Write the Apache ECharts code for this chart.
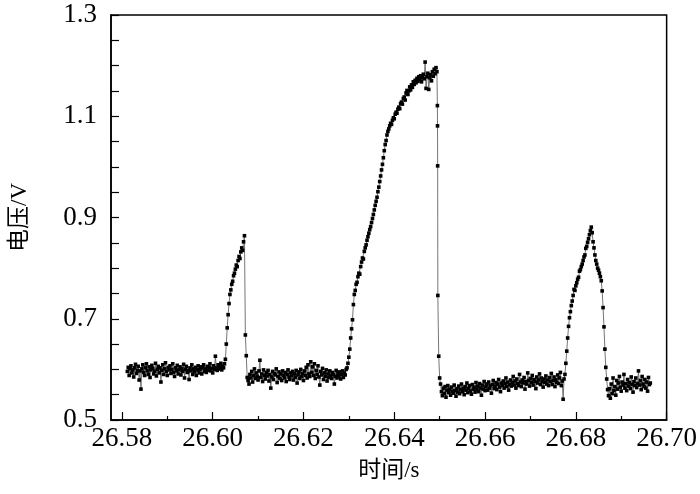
<!DOCTYPE html>
<html>
<head>
<meta charset="utf-8">
<script src="https://cdn.jsdelivr.net/npm/echarts@6/dist/echarts.min.js"></script>
<style>
  html, body { margin: 0; padding: 0; background: #fff; }
  #chart { width: 700px; height: 494px; }
</style>
</head>
<body>
<div id="chart"></div>
<script>
// 采样间隔 (s)，各段电压值单位 mV
const sampleStep = 0.0002;

const baseline1Start = 26.5812;
const baseline1 = [
  596, 604, 588, 601, 607, 593, 599, 585, 603, 610,
  592, 598, 606, 579, 597, 561, 601, 609, 594, 588,
  603, 611, 597, 590, 605, 584, 599, 608, 602, 591,
  596, 612, 587, 600, 606, 593, 603, 575, 598, 609,
  590, 601, 613, 596, 588, 604, 599, 607, 592, 600,
  611, 594, 586, 603, 597, 608, 591, 599, 605, 589,
  602, 596, 610, 583, 600, 606, 594, 598, 580, 603,
  597, 609, 590, 601, 595, 604, 588, 599, 607, 593,
  600, 605, 591, 603, 609, 596, 601, 594, 606, 598,
  604, 611, 597, 602, 593, 607, 600, 626, 603, 598,
  609, 601, 605, 612, 599, 606, 603, 611
];

const peak1Start = 26.6028;
const peak1 = [
  620, 650, 682, 708, 730, 748, 757, 768, 774, 785,
  790, 798, 806, 803, 815, 823, 819, 832, 840, 835,
  852, 864, 668, 627, 584
];

const baseline2Start = 26.6078;
const baseline2 = [
  578, 571, 590, 583, 596, 575, 588, 601, 582, 593,
  586, 579, 597, 618, 584, 591, 576, 599, 588, 581,
  594, 587, 598, 577, 590, 563, 585, 596, 580, 592,
  589, 601, 574, 586, 595, 582, 591, 578, 597, 588,
  583, 594, 576, 590, 599, 585, 580, 593, 587, 596,
  579, 591, 584, 598, 573, 589, 595, 582, 600, 586,
  592, 578, 597, 588, 604, 583, 609, 591, 586, 615,
  594, 605, 588, 611, 582, 598, 590, 607, 585, 569,
  596, 589, 602, 580, 593, 586, 599, 577, 591, 584,
  597, 588, 582, 594, 590, 571, 586, 598, 583, 592,
  587, 595, 581, 590, 597, 584, 593, 589, 600
];

const peak2Start = 26.6296;
const peak2 = [
  603, 612, 624, 640, 662, 680, 698, 728, 748, 756,
  768, 772, 783, 790, 788, 803, 812, 820, 818, 833,
  840, 846, 855, 862, 869, 876, 882, 890, 898, 906,
  915, 924, 932, 940, 951, 960, 971, 982, 994, 1005,
  1018, 1032, 1044, 1052, 1063, 1070, 1075, 1081, 1086, 1084,
  1092, 1097, 1095, 1104, 1108, 1106, 1114, 1118, 1115, 1125,
  1128, 1124, 1135, 1138, 1132, 1146, 1151, 1143, 1150, 1158,
  1152, 1162, 1157, 1168, 1163, 1171, 1166, 1175, 1169, 1178,
  1172, 1180, 1168, 1176, 1183, 1174, 1207, 1155, 1178, 1185,
  1153, 1176, 1182, 1170, 1188, 1179, 1193, 1184, 1196, 1188,
  746, 626, 583
];

// 第二个峰快速下降段的采样点
const fall2Times = [26.6495, 26.64953, 26.64956];
const fall2Values = [1121, 1081, 1002];

const baseline3Start = 26.6502;
const baseline3 = [
  571, 556, 548, 563, 552, 566, 545, 559, 568, 554,
  561, 549, 565, 557, 553, 569, 558, 547, 562, 555,
  567, 552, 560, 571, 556, 563, 550, 566, 559, 573,
  554, 562, 568, 557, 551, 570, 561, 565, 555, 574,
  560, 567, 556, 572, 563, 549, 569, 561, 576, 558,
  566, 571, 559, 575, 563, 568, 553, 570, 578, 562,
  567, 574, 560, 571, 580, 565, 556, 573, 568, 577,
  563, 572, 583, 566, 575, 559, 570, 579, 567, 574,
  586, 569, 577, 563, 581, 572, 568, 590, 575, 566,
  579, 573, 584, 561, 576, 571, 593, 578, 567, 582,
  574, 588, 569, 580, 576, 562, 585, 573, 579, 591,
  570, 583, 576, 565, 581, 574, 587, 571, 579, 568,
  584, 576, 592, 570, 578, 585, 566, 580, 574, 589,
  572, 583, 594, 568, 577, 541, 581
];

const peak3Start = 26.6776;
const peak3 = [
  590, 612, 636, 662, 685, 702, 714, 726, 735, 746,
  758, 756, 765, 771, 778, 782, 794, 797, 803, 808,
  815, 822, 826, 839, 843, 851, 858, 866, 874, 881,
  870, 852, 840, 826, 815, 808, 800, 796, 790, 783,
  775, 755, 722, 684, 640, 604, 581, 560
];

const baseline4Start = 26.6872;
const baseline4 = [
  548, 562, 543, 571, 552, 583, 558, 566, 549, 578,
  561, 573, 586, 565, 557, 575, 569, 590, 563, 572,
  558, 580, 567, 574, 562, 585, 570, 555, 576, 568,
  583, 564, 572, 597, 569, 578, 560, 586, 571, 566,
  580, 563, 575, 557, 584, 570, 573
];

// 坐标轴刻度
const xLabelValues = [26.58, 26.60, 26.62, 26.64, 26.66, 26.68, 26.70];
const xMinorTicks = [26.59, 26.61, 26.63, 26.65, 26.67, 26.69];
const yLabelValues = [0.5, 0.7, 0.9, 1.1, 1.3];
const yTickValues = [0.5, 0.55, 0.6, 0.65, 0.7, 0.75, 0.8, 0.85, 0.9, 0.95, 1.0, 1.05, 1.1, 1.15, 1.2, 1.25, 1.3];

const points = [];
function addSegment(start, values) {
  values.forEach((v, i) => points.push([+(start + i * sampleStep).toFixed(5), v / 1000]));
}
addSegment(baseline1Start, baseline1);
addSegment(peak1Start, peak1);
addSegment(baseline2Start, baseline2);
addSegment(peak2Start, peak2);
fall2Times.forEach((t, i) => points.push([t, fall2Values[i] / 1000]));
addSegment(baseline3Start, baseline3);
addSegment(peak3Start, peak3);
addSegment(baseline4Start, baseline4);
points.sort((a, b) => a[0] - b[0]);

const serif = "'Liberation Serif', 'Times New Roman', serif";
const chart = echarts.init(document.getElementById('chart'), null, { renderer: 'canvas' });

chart.setOption({
  animation: false,
  backgroundColor: '#fff',
  grid: { left: 111, right: 31, top: 15, bottom: 74, show: true, borderColor: '#000', borderWidth: 1.5, backgroundColor: 'transparent' },
  xAxis: [
    {
      type: 'value', min: 26.5776, max: 26.70,
      name: '时间/s', nameLocation: 'middle', nameGap: 39,
      nameTextStyle: { fontFamily: serif + ", 'Noto Sans CJK SC'", fontSize: 23, color: '#000' },
      axisLine: { show: true, onZero: false, lineStyle: { color: '#000', width: 1.5 } },
      axisTick: { show: true, inside: true, length: 8, customValues: xLabelValues, lineStyle: { color: '#000', width: 1.2 } },
      axisLabel: { customValues: xLabelValues, fontFamily: serif, fontSize: 27, color: '#000', margin: 5,
        formatter: v => v.toFixed(2) },
      splitLine: { show: false }
    },
    {
      type: 'value', min: 26.5776, max: 26.70, position: 'bottom',
      axisLine: { show: false },
      axisTick: { show: true, inside: true, length: 4, customValues: xMinorTicks, lineStyle: { color: '#000', width: 1.2 } },
      axisLabel: { show: false },
      splitLine: { show: false }
    }
  ],
  yAxis: {
    type: 'value', min: 0.5, max: 1.3,
    name: '电压/V', nameLocation: 'middle', nameGap: 80,
    nameTextStyle: { fontFamily: serif + ", 'Noto Sans CJK SC'", fontSize: 23, color: '#000' },
    axisLine: { show: true, onZero: false, lineStyle: { color: '#000', width: 1.5 } },
    axisTick: { show: true, inside: true, length: 8, customValues: yTickValues, lineStyle: { color: '#000', width: 1.2 } },
    axisLabel: { customValues: yLabelValues, fontFamily: serif, fontSize: 27, color: '#000', margin: 14,
      formatter: v => v.toFixed(1) },
    splitLine: { show: false }
  },
  series: [{
    type: 'line',
    data: points,
    xAxisIndex: 0,
    symbol: 'rect',
    symbolSize: 3.6,
    showSymbol: true,
    showAllSymbol: true,
    itemStyle: { color: '#000' },
    lineStyle: { color: '#666', width: 0.9 }
  }]
});
</script>
</body>
</html>
